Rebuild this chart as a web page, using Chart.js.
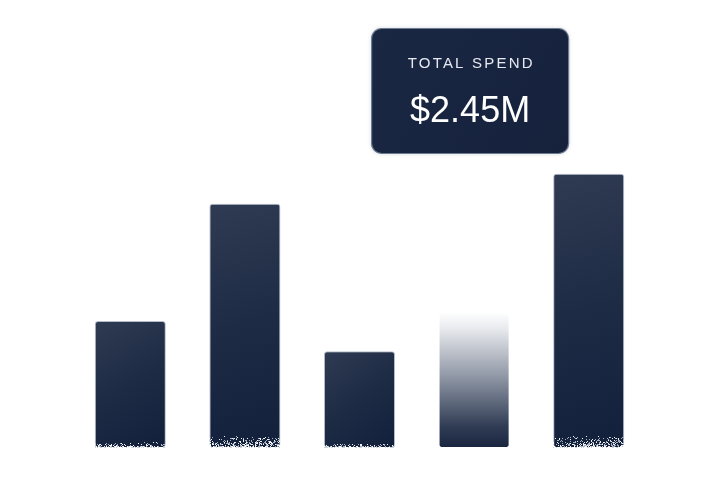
<!DOCTYPE html>
<html><head><meta charset="utf-8">
<script src="https://cdn.jsdelivr.net/npm/chart.js@4.4.1/dist/chart.umd.min.js"></script>
<style>html,body{margin:0;padding:0;background:#fff;}#wrap{width:716px;height:496px;}</style>
</head><body><div id="wrap"><canvas id="c" width="716" height="496"></canvas></div>
<script>
const categories = ['Q1', 'Q2', 'Q3', 'Q4', 'Q5'];
const spendValues = [0.355, 0.685, 0.27, 0.38, 0.77];
const yTicks = [0, 0.25, 0.5, 0.75, 1.0];
const noiseDepth = [5, 11, 3, 0, 11];
const highlightIndex = 3;
const tooltipTitle = 'TOTAL SPEND';
const tooltipValue = '$2.45M';
const barPct = 0.62;

function barGeom(chart, i) {
  const xs = chart.scales.x, ys = chart.scales.y;
  const cw = xs.width / categories.length;
  const cx = xs.getPixelForValue(i);
  const w = cw * barPct;
  return { left: cx - w / 2, right: cx + w / 2, top: ys.getPixelForValue(spendValues[i]), base: ys.getPixelForValue(0), cx };
}

function barFill(ctx) {
  const chart = ctx.chart;
  if (!chart.chartArea || !chart.scales.x) return '#1b2741';
  const b = barGeom(chart, ctx.dataIndex);
  const c = chart.ctx;
  if (ctx.dataIndex === highlightIndex) {
    const g = c.createLinearGradient(0, b.top, 0, b.base);
    g.addColorStop(0, 'rgba(255,255,255,1)');
    g.addColorStop(0.12, '#e8eaee');
    g.addColorStop(0.5, '#8a92a1');
    g.addColorStop(0.85, '#303c54');
    g.addColorStop(1, '#1a2640');
    return g;
  }
  const g = c.createLinearGradient(b.left, b.top, b.right, b.base);
  g.addColorStop(0, '#2f3b52');
  g.addColorStop(0.5, '#1e2b45');
  g.addColorStop(1, '#12203b');
  return g;
}

function barBorder(ctx) {
  return ctx.dataIndex === highlightIndex ? 'rgba(120,135,160,0.0)' : 'rgba(130,145,170,0.6)';
}

const noisePlugin = {
  id: 'noise',
  afterDatasetsDraw(chart) {
    const c = chart.ctx;
    let seed = 12345;
    const rnd = () => { seed = (seed * 1103515245 + 12345) & 0x7fffffff; return seed / 0x7fffffff; };
    chart.getDatasetMeta(0).data.forEach((el, i) => {
      const h = noiseDepth[i];
      if (!h) return;
      const left = Math.round(el.x - el.width / 2), right = Math.round(el.x + el.width / 2);
      const bottom = Math.round(el.base);
      c.save();
      for (let y = bottom - h; y < bottom + 1; y++) {
        const t = (y - (bottom - h) + 1) / (h + 1);
        for (let x = left; x < right; x++) {
          if (rnd() < t * 0.6) {
            c.fillStyle = rnd() < 0.5 ? 'rgba(255,255,255,0.95)' : 'rgba(195,203,216,0.85)';
            c.fillRect(x, y, 1, 1);
          }
        }
      }
      c.restore();
    });
  }
};

const boxPlugin = {
  id: 'totalBox',
  afterDraw(chart) {
    const c = chart.ctx;
    const b = barGeom(chart, highlightIndex);
    const cx = b.cx - 4;
    const w = 197, h = 125, x = cx - w / 2, y = 28.5;
    c.save();
    c.shadowColor = 'rgba(20,30,50,0.2)';
    c.shadowBlur = 4;
    c.beginPath();
    c.roundRect(x, y, w, h, 10);
    const g = c.createLinearGradient(x, y, x + w, y + h);
    g.addColorStop(0, '#1a2743');
    g.addColorStop(1, '#16223c');
    c.fillStyle = g;
    c.fill();
    c.shadowBlur = 0;
    c.lineWidth = 1.2;
    c.strokeStyle = '#6d7b93';
    c.stroke();
    c.fillStyle = '#e6e9ef';
    c.textAlign = 'center';
    c.textBaseline = 'middle';
    c.font = '400 15px "Liberation Sans", Arial, sans-serif';
    if ('letterSpacing' in c) c.letterSpacing = '2.2px';
    c.fillText(tooltipTitle, cx + 1.1, 64);
    if ('letterSpacing' in c) c.letterSpacing = '0px';
    c.fillStyle = '#ffffff';
    c.font = '400 36px "Liberation Sans", Arial, sans-serif';
    c.fillText(tooltipValue, cx, 112);
    c.restore();
  }
};

new Chart(document.getElementById('c'), {
  type: 'bar',
  data: {
    labels: categories,
    datasets: [{
      data: spendValues,
      backgroundColor: barFill,
      borderColor: barBorder,
      borderWidth: { left: 1, right: 1, top: 1, bottom: 0 },
      borderRadius: 3,
      borderSkipped: false,
      barPercentage: barPct,
      categoryPercentage: 1.0
    }]
  },
  options: {
    responsive: false,
    animation: false,
    devicePixelRatio: 1,
    layout: { padding: { top: 92, bottom: 49, left: 73, right: 70 } },
    plugins: { legend: { display: false }, tooltip: { enabled: false } },
    scales: {
      x: { display: false },
      y: { display: false, min: 0, max: yTicks[yTicks.length - 1],
           afterBuildTicks: (ax) => { ax.ticks = yTicks.map(v => ({ value: v })); } }
    }
  },
  plugins: [noisePlugin, boxPlugin]
});
</script></body></html>
